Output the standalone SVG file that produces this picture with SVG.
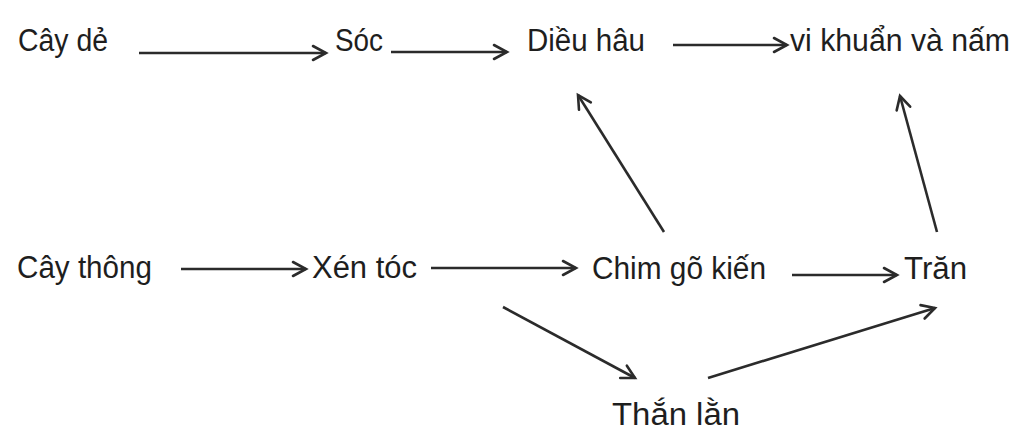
<svg xmlns="http://www.w3.org/2000/svg" width="1024" height="442" viewBox="0 0 1024 442">
<style>
text{font-family:"Liberation Sans","Noto Sans",sans-serif;font-size:31px;fill:#1e1e1e}
.c{stroke:#2b2b2b;stroke-width:2.6;fill:none;marker-end:url(#ah)}
</style>
<defs>
<marker id="ah" markerUnits="userSpaceOnUse" markerWidth="30" markerHeight="30" viewBox="-20 -15 30 30" refX="0" refY="0" orient="auto">
<path d="M-13,-7 L0,0 L-13,7" fill="none" stroke="#2b2b2b" stroke-width="2.6" stroke-linecap="round" stroke-linejoin="miter"/>
</marker>
</defs>
<rect width="1024" height="442" fill="#ffffff"/>
<g id="connectors">
<line class="c" x1="139" y1="53" x2="326" y2="53"/>
<line class="c" x1="391" y1="52" x2="507" y2="52"/>
<line class="c" x1="673" y1="45" x2="787" y2="45"/>
<line class="c" x1="664" y1="232" x2="578" y2="95"/>
<line class="c" x1="937" y1="232" x2="900" y2="96"/>
<line class="c" x1="181" y1="269" x2="306" y2="269"/>
<line class="c" x1="431" y1="268" x2="576" y2="268"/>
<line class="c" x1="792" y1="275" x2="897" y2="275"/>
<line class="c" x1="503" y1="307" x2="635" y2="378"/>
<line class="c" x1="708" y1="378" x2="935" y2="308"/>
</g>
<g id="cay-de"><text x="18" y="51" textLength="90" lengthAdjust="spacingAndGlyphs">Cây dẻ</text></g>
<g id="soc"><text x="335" y="51" textLength="48" lengthAdjust="spacingAndGlyphs">Sóc</text></g>
<g id="dieu-hau"><text x="527" y="51" textLength="118" lengthAdjust="spacingAndGlyphs">Diều hâu</text></g>
<g id="vi-khuan"><text x="790" y="51" textLength="220" lengthAdjust="spacingAndGlyphs">vi khuẩn và nấm</text></g>
<g id="cay-thong"><text x="17" y="278" textLength="135" lengthAdjust="spacingAndGlyphs">Cây thông</text></g>
<g id="xen-toc"><text x="312" y="278" textLength="105" lengthAdjust="spacingAndGlyphs">Xén tóc</text></g>
<g id="chim-go-kien"><text x="592" y="279" textLength="174" lengthAdjust="spacingAndGlyphs">Chim gõ kiến</text></g>
<g id="tran"><text x="904" y="279" textLength="63" lengthAdjust="spacingAndGlyphs">Trăn</text></g>
<g id="than-lan"><text x="612" y="425" textLength="128" lengthAdjust="spacingAndGlyphs">Thắn lằn</text></g>
</svg>
